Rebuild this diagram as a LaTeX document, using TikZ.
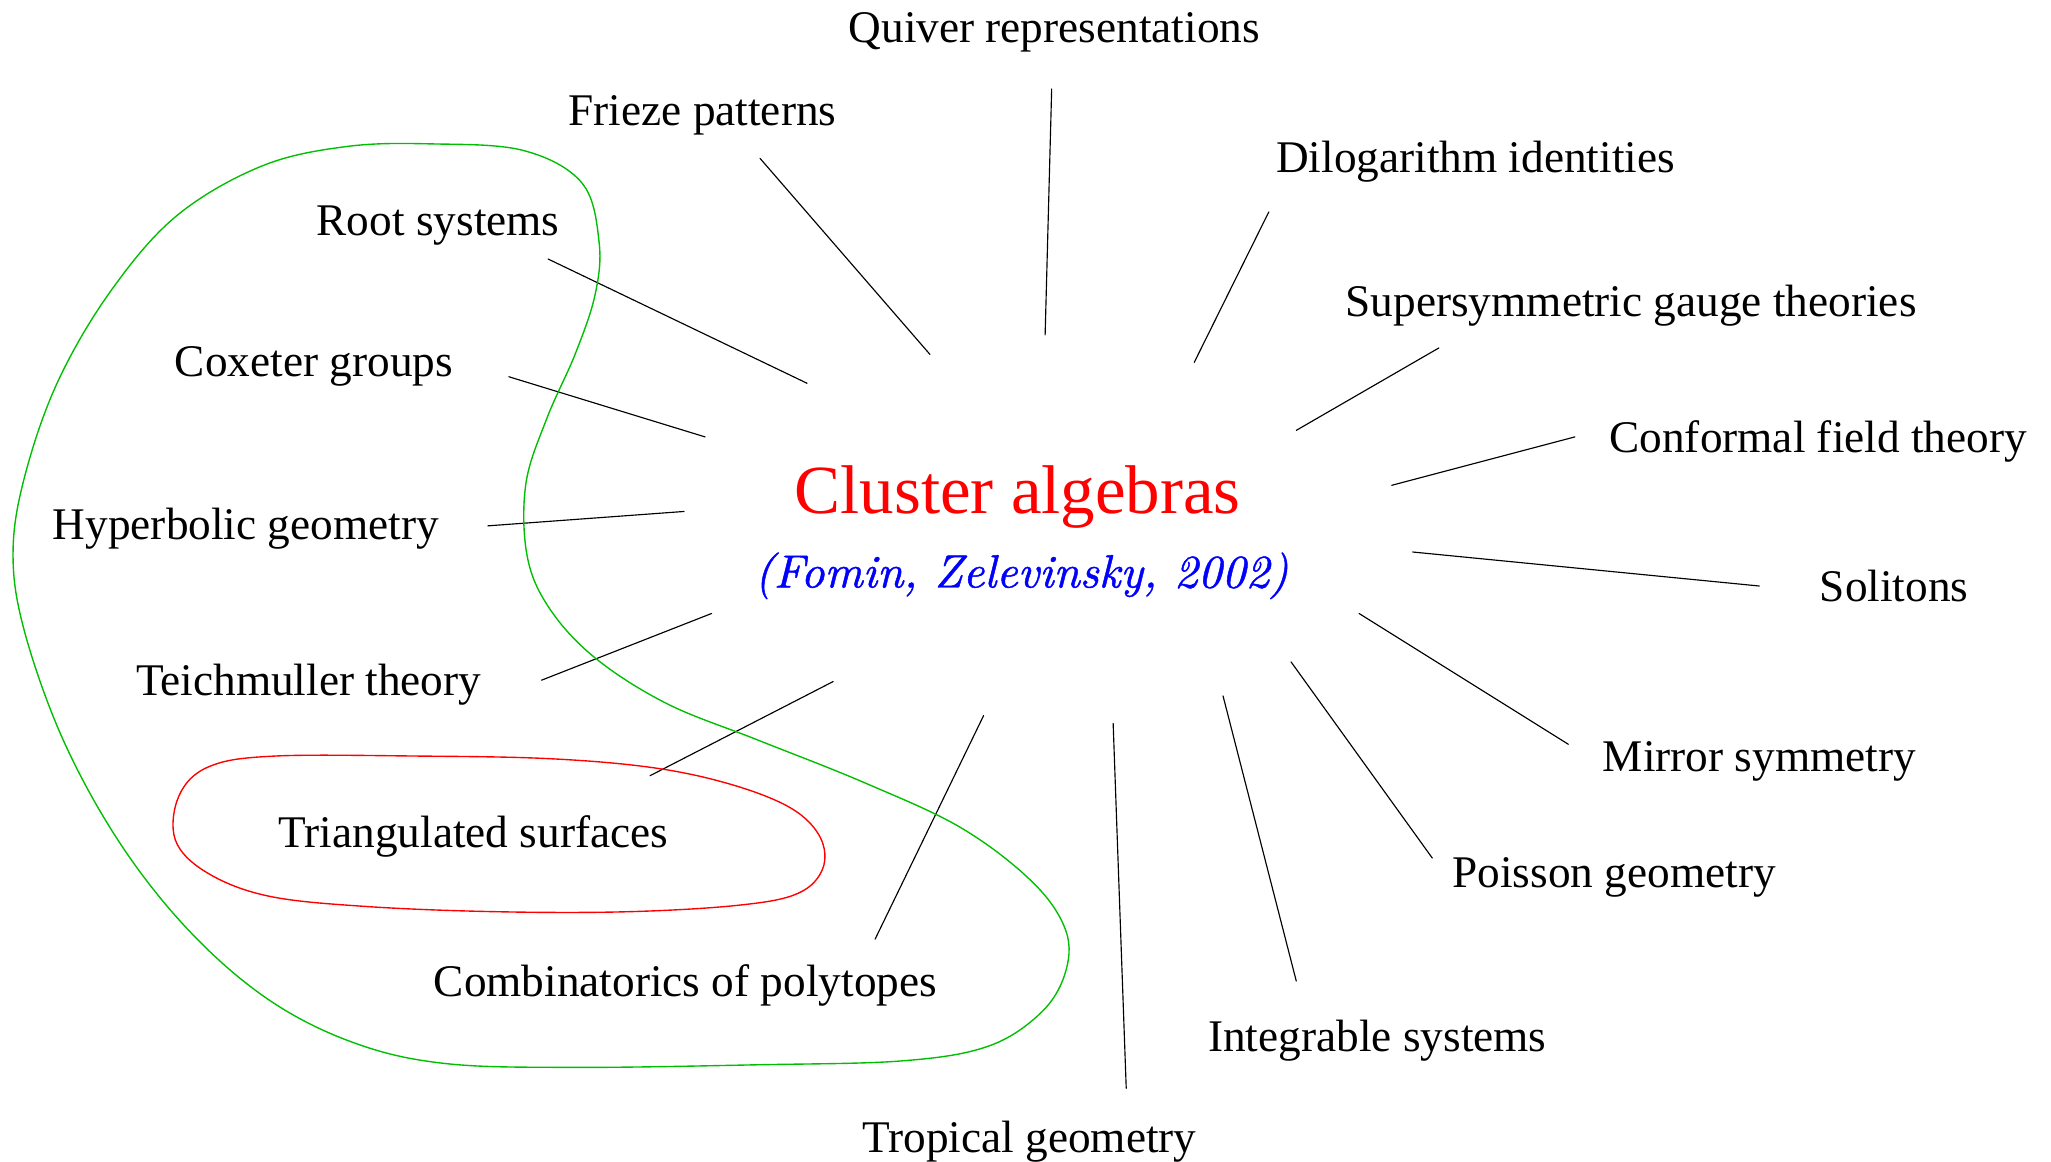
\documentclass[tikz,border=0pt]{standalone}
\usepackage{fontspec}
\newfontfamily\timesfont{Liberation Serif}
\newfontfamily\cmitfont{lmroman10-italic.otf}[FakeBold=1]
\usetikzlibrary{calc}

\begin{document}
\begin{tikzpicture}[x=0.2mm, y=-0.2mm, line join=round, line cap=round,
    lbl/.style={inner sep=0pt, text height=17.3pt, text depth=3.9pt,
      font=\timesfont\fontsize{19.7}{24}\selectfont},
    spoke/.style={line width=0.5pt},
    blob/.style={line width=0.6pt}]
    \useasboundingbox (0,0) rectangle (1568,888);

    % centre
    \node[lbl, text=red, text height=26.4pt, text depth=6pt,
      font=\timesfont\fontsize{30}{36}\selectfont] (cluster) at (778,375) {Cluster algebras};
    \node[lbl, text=blue, text height=17.9pt, text depth=4.1pt,
      font=\cmitfont\fontsize{20.3}{24}\selectfont] (fomin) at (781,437) {(Fomin, Zelevinsky, 2002)};

    % topics
    \node[lbl] (quiver) at (806,21) {Quiver representations};
    \node[lbl] (frieze) at (537,84) {Frieze patterns};
    \node[lbl] (dilog) at (1128,120) {Dilogarithm identities};
    \node[lbl] (roots) at (335,168) {Root systems};
    \node[lbl] (susy) at (1247,230) {Supersymmetric gauge theories};
    \node[lbl] (coxeter) at (240,276) {Coxeter groups};
    \node[lbl] (cft) at (1390,334) {Conformal field theory};
    \node[lbl] (hyper) at (188,401) {Hyperbolic geometry};
    \node[lbl] (solitons) at (1448,448) {Solitons};
    \node[lbl] (teich) at (236,520) {Teichmuller theory};
    \node[lbl] (mirror) at (1345,578) {Mirror symmetry};
    \node[lbl] (triang) at (362,636) {Triangulated surfaces};
    \node[lbl] (poisson) at (1234,667) {Poisson geometry};
    \node[lbl] (polytopes) at (524,750) {Combinatorics of polytopes};
    \node[lbl] (integrable) at (1053,792) {Integrable systems};
    \node[lbl] (tropical) at (787,869) {Tropical geometry};

    % inner ends of the spokes
    \coordinate (quiver-in) at (799,256);
    \coordinate (frieze-in) at (711,271);
    \coordinate (dilog-in) at (913,277);
    \coordinate (roots-in) at (617,293);
    \coordinate (susy-in) at (991,329);
    \coordinate (coxeter-in) at (539,334);
    \coordinate (cft-in) at (1064,371);
    \coordinate (hyper-in) at (523,391);
    \coordinate (solitons-in) at (1080,422);
    \coordinate (teich-in) at (544,469);
    \coordinate (mirror-in) at (1039,469);
    \coordinate (triang-in) at (637,521);
    \coordinate (poisson-in) at (987,506);
    \coordinate (polytopes-in) at (752,547);
    \coordinate (integrable-in) at (935,532);
    \coordinate (tropical-in) at (851,553);

    \draw[spoke] (quiver) ++(-2,47) -- (quiver-in);
    \draw[spoke] (frieze) ++(44,37) -- (frieze-in);
    \draw[spoke] (dilog) ++(-158,42) -- (dilog-in);
    \draw[spoke] (roots) ++(84,30) -- (roots-in);
    \draw[spoke] (susy) ++(-147,36) -- (susy-in);
    \draw[spoke] (coxeter) ++(149,12) -- (coxeter-in);
    \draw[spoke] (cft) ++(-186,0) -- (cft-in);
    \draw[spoke] (hyper) ++(185,1) -- (hyper-in);
    \draw[spoke] (solitons) ++(-103,0) -- (solitons-in);
    \draw[spoke] (teich) ++(178,0) -- (teich-in);
    \draw[spoke] (mirror) ++(-146,-9) -- (mirror-in);
    \draw[spoke] (triang) ++(135,-43) -- (triang-in);
    \draw[spoke] (poisson) ++(-139,-11) -- (poisson-in);
    \draw[spoke] (polytopes) ++(145,-32) -- (polytopes-in);
    \draw[spoke] (integrable) ++(-62,-42) -- (integrable-in);
    \draw[spoke] (tropical) ++(74,-37) -- (tropical-in);

    % outlines
    \draw[blob, green!75!black] plot[smooth cycle, tension=0.6] coordinates {
      (330,110) (400,115) (445,140) (458,185) (455,225) (440,270) (418,320)
      (402,370) (403,425) (420,465) (455,503) (510,538) (580,566) (660,598)
      (735,633) (790,675) (815,712) (814,745) (795,775) (755,800) (690,811)
      (580,814) (440,816) (340,813) (270,797) (205,764) (145,712) (92,645)
      (48,565) (18,480) (10,420) (20,360) (45,290) (85,222) (135,165)
      (200,127) (265,112)};
    \draw[blob, red] plot[smooth cycle, tension=0.6] coordinates {
      (210,578) (320,578) (420,580) (500,587) (560,600) (605,618) (627,640)
      (629,664) (610,683) (565,692) (480,697) (380,697) (280,693) (205,685)
      (158,667) (134,642) (137,608) (160,586)};
\end{tikzpicture}
\end{document}
